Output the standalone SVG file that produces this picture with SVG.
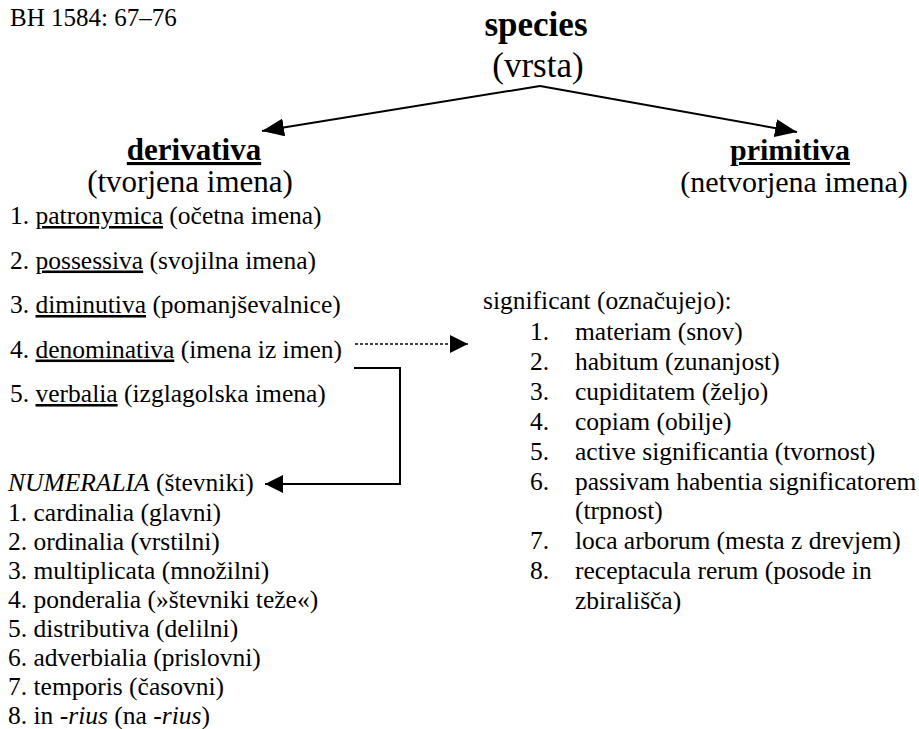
<svg xmlns="http://www.w3.org/2000/svg" width="919" height="729" viewBox="0 0 919 729" font-family="Liberation Serif, Times New Roman, serif">
<defs>
<style>
text { font-family: 'Liberation Serif', 'Times New Roman', serif; fill: #000; }
.b { font-size: 25.5px; }
.h { font-size: 31px; text-anchor: middle; }
.hb { font-size: 31px; font-weight: bold; text-anchor: middle; }
.u { text-decoration: underline; }
.i { font-style: italic; }
.ln { stroke: #000; stroke-width: 2; fill: none; }
.dot { stroke: #000; stroke-width: 1.5; fill: none; stroke-dasharray: 3 2; }
</style>
<marker id="ah" viewBox="0 0 22 18" refX="22" refY="9" markerWidth="22" markerHeight="18" markerUnits="userSpaceOnUse" orient="auto">
<path d="M0,0 L22,9 L0,18 z" fill="#000"/>
</marker>
<marker id="ahs" viewBox="0 0 18 18" refX="18" refY="9" markerWidth="18" markerHeight="18" markerUnits="userSpaceOnUse" orient="auto">
<path d="M0,0 L18,9 L0,18 z" fill="#000"/>
</marker>
</defs>
<rect width="919" height="729" fill="#fff"/>

<g id="source"><text class="b" x="10" y="26" style="font-size:25px">BH 1584: 67–76</text></g>

<g id="species">
<text x="536" y="36" style="font-size:35px;font-weight:bold;text-anchor:middle">species</text>
<text x="538" y="77" style="font-size:35px;text-anchor:middle">(vrsta)</text>
</g>

<g id="derivativa">
<text class="hb u" x="194" y="160">derivativa</text>
<text class="h" x="190" y="192">(tvorjena imena)</text>
<text class="b" x="10" y="224">1. <tspan class="u">patronymica</tspan> (očetna imena)</text>
<text class="b" x="10" y="268.5">2. <tspan class="u">possessiva</tspan> (svojilna imena)</text>
<text class="b" x="10" y="313">3. <tspan class="u">diminutiva</tspan> (pomanjševalnice)</text>
<text class="b" x="10" y="357.5">4. <tspan class="u">denominativa</tspan> (imena iz imen)</text>
<text class="b" x="10" y="402">5. <tspan class="u">verbalia</tspan> (izglagolska imena)</text>
</g>

<g id="primitiva">
<text class="hb u" x="790" y="160" style="font-size:30px">primitiva</text>
<text class="h" x="794" y="192" style="font-size:30px">(netvorjena imena)</text>
</g>

<g id="significant">
<text class="b" x="483" y="309">significant (označujejo):</text>
<text class="b" x="530" y="340">1.</text><text class="b" x="575" y="340">materiam (snov)</text>
<text class="b" x="530" y="370">2.</text><text class="b" x="575" y="370">habitum (zunanjost)</text>
<text class="b" x="530" y="400">3.</text><text class="b" x="575" y="400">cupiditatem (željo)</text>
<text class="b" x="530" y="430">4.</text><text class="b" x="575" y="430">copiam (obilje)</text>
<text class="b" x="530" y="460">5.</text><text class="b" x="575" y="460">active significantia (tvornost)</text>
<text class="b" x="530" y="490">6.</text><text class="b" x="575" y="490">passivam habentia significatorem</text>
<text class="b" x="575" y="519">(trpnost)</text>
<text class="b" x="530" y="549">7.</text><text class="b" x="575" y="549">loca arborum (mesta z drevjem)</text>
<text class="b" x="530" y="579">8.</text><text class="b" x="575" y="579">receptacula rerum (posode in</text>
<text class="b" x="575" y="609">zbirališča)</text>
</g>

<g id="numeralia">
<text class="b" x="8" y="491"><tspan class="i">NUMERALIA</tspan> (števniki)</text>
<text class="b" x="8" y="521">1. cardinalia (glavni)</text>
<text class="b" x="8" y="550">2. ordinalia (vrstilni)</text>
<text class="b" x="8" y="579">3. multiplicata (množilni)</text>
<text class="b" x="8" y="608">4. ponderalia (»števniki teže«)</text>
<text class="b" x="8" y="637">5. distributiva (delilni)</text>
<text class="b" x="8" y="666">6. adverbialia (prislovni)</text>
<text class="b" x="8" y="695">7. temporis (časovni)</text>
<text class="b" x="8" y="724">8. in <tspan class="i">-rius</tspan> (na <tspan class="i">-rius</tspan>)</text>
</g>

<g id="connectors">
<line class="ln" x1="540" y1="86" x2="262" y2="131" marker-end="url(#ah)"/>
<line class="ln" x1="540" y1="86" x2="797" y2="132" marker-end="url(#ah)"/>
<line class="dot" x1="355" y1="344" x2="468" y2="344" marker-end="url(#ahs)"/>
<polyline class="ln" points="354,368 400,368 400,484 265,484" marker-end="url(#ahs)"/>
</g>
</svg>
